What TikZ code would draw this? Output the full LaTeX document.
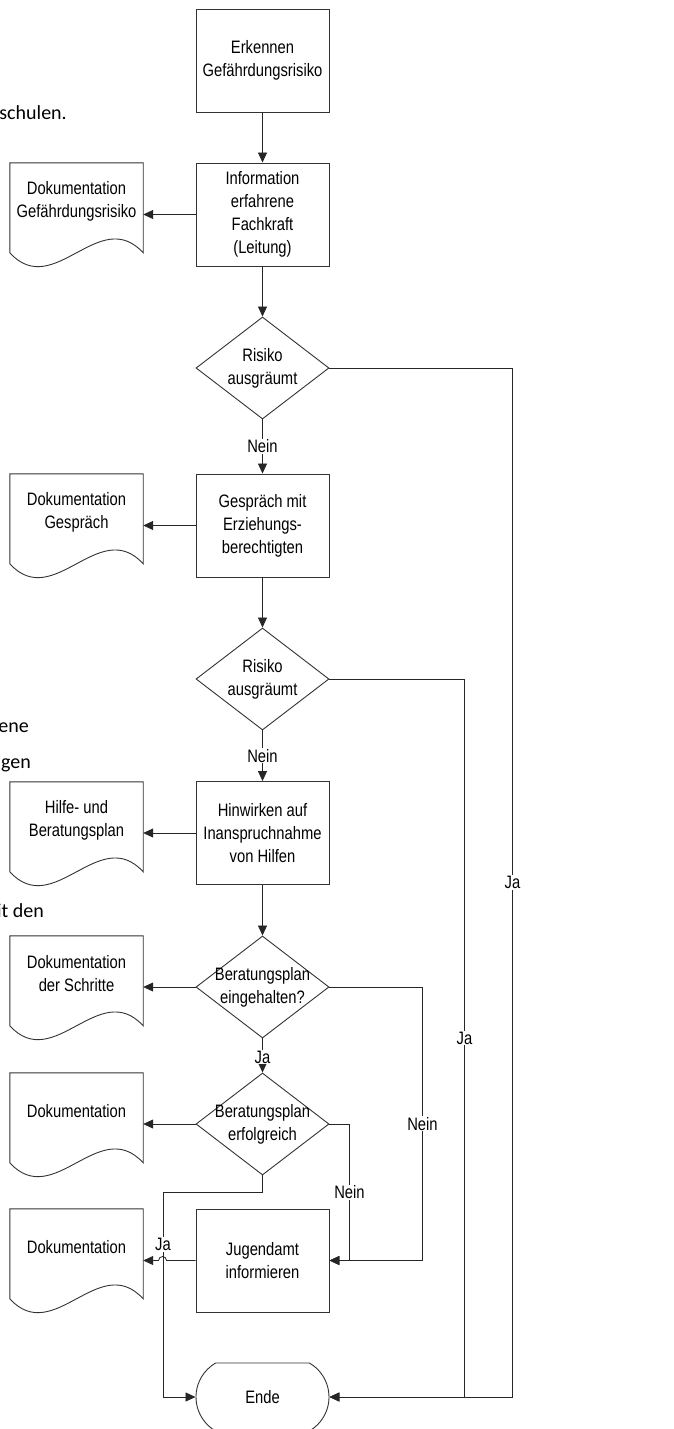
\documentclass[tikz,border=0pt]{standalone}
\usepackage{fontspec}
\setmainfont{Liberation Sans}[FakeStretch=0.82]
\newfontfamily\seitenschrift{Carlito}
\usetikzlibrary{arrows.meta,shapes.geometric,shapes.misc,calc,positioning}

\newcommand{\schrift}{\fontsize{18}{23}\selectfont}
\newcommand{\rautetext}[1]{\makebox[0pt]{\begin{tabular}{@{}c@{}}#1\end{tabular}}}
% Dokument-Symbol mit Wellenunterkante
\newcommand{\dokuform}[1]{%
  \draw[rahmen] (#1.north east) -- (#1.north west) -- ++(0,-90)
    .. controls +(44,-48) and +(-44,48) .. ($(#1.north east)+(0,-90)$) -- cycle;}

\tikzset{
  rahmen/.style={draw=black!80, line width=0.9pt},
  linie/.style={draw=black!85, line width=0.8pt},
  pfeil/.style={linie, -{Triangle[length=10pt,width=9pt]}},
  kasten/.style={rahmen, minimum width=133pt, minimum height=103pt, inner sep=0pt, align=center, font=\schrift},
  raute/.style={diamond, rahmen, minimum width=133pt, minimum height=102pt, inner sep=0pt, font=\schrift},
  doku/.style={minimum width=133pt, minimum height=76pt, inner sep=0pt, align=center, font=\schrift},
  endform/.style={rounded rectangle, rounded rectangle arc length=120, rahmen, minimum width=133pt, minimum height=68pt, inner sep=0pt, font=\schrift},
  lbl/.style={fill=white, inner sep=1pt, font=\schrift},
  seite/.style={font=\seitenschrift\fontsize{20}{24}\selectfont, inner sep=0pt, anchor=base east}
}

\begin{document}
\begin{tikzpicture}[x=1pt,y=1pt]
\useasboundingbox[fill=white] (0,0) rectangle (673,-1429);

% Reste des Seitentextes
\node[seite] (rest1) at (67,-119) {schulen.};
\node[seite] (rest2) at (29,-732) {ene};
\node[seite] (rest3) at (31,-768) {gen};
\node[seite] (rest4) at (44,-917) {it den};

% Ablauf
\node[kasten] (erkennen) at (262.5,-60.5) {Erkennen\\Gefährdungsrisiko};
\node[kasten] (info) at (262.5,-214.5) {Information\\erfahrene\\Fachkraft\\(Leitung)};
\node[doku] (dokrisiko) at (76.5,-201) {Dokumentation\\Gefährdungsrisiko};
\node[raute] (risiko1) at (262.5,-368) {\rautetext{Risiko\\ausgräumt}};
\node[kasten] (gespraech) at (262.5,-525.5) {Gespräch mit\\Erziehungs-\\berechtigten};
\node[doku] (dokgespraech) at (76.5,-512) {Dokumentation\\Gespräch};
\node[raute] (risiko2) at (262.5,-679) {\rautetext{Risiko\\ausgräumt}};
\node[kasten] (hinwirken) at (262.5,-833) {Hinwirken auf\\Inanspruchnahme\\von Hilfen};
\node[doku] (dokplan) at (76.5,-820) {Hilfe- und\\Beratungsplan};
\node[raute] (eingehalten) at (262.5,-987) {\rautetext{Beratungsplan\\eingehalten?}};
\node[doku] (dokschritte) at (76.5,-974) {Dokumentation\\der Schritte};
\node[raute] (erfolg) at (262.5,-1124) {\rautetext{Beratungsplan\\erfolgreich}};
\node[doku] (dokerfolg) at (76.5,-1111) {Dokumentation};
\node[kasten] (jugendamt) at (262.5,-1260.5) {Jugendamt\\informieren};
\node[doku] (dokjugendamt) at (76.5,-1247) {Dokumentation};
\node[endform] (ende) at (262.5,-1397) {Ende};

\dokuform{dokrisiko}
\dokuform{dokgespraech}
\dokuform{dokplan}
\dokuform{dokschritte}
\dokuform{dokerfolg}
\dokuform{dokjugendamt}

% Verbindungen
\draw[pfeil] (erkennen) -- (info);
\draw[pfeil] (info.west) -- (info.west -| dokrisiko.east);
\draw[pfeil] (info) -- (risiko1);
\draw[pfeil] (risiko1) -- node[lbl]{Nein} (gespraech);
\draw[pfeil] (risiko1.east) -- ++(183,0) |- node[lbl,pos=.25]{Ja} (ende.east);
\draw[pfeil] (gespraech.west) -- (gespraech.west -| dokgespraech.east);
\draw[pfeil] (gespraech) -- (risiko2);
\draw[pfeil] (risiko2) -- node[lbl]{Nein} (hinwirken);
\draw[pfeil] (risiko2.east) -- ++(135,0) |- node[lbl,pos=.25]{Ja} (ende.east);
\draw[pfeil] (hinwirken.west) -- (hinwirken.west -| dokplan.east);
\draw[pfeil] (hinwirken) -- (eingehalten);
\draw[pfeil] (eingehalten.west) -- (eingehalten.west -| dokschritte.east);
\draw[pfeil] (eingehalten) -- node[lbl,pos=.55]{Ja} (erfolg);
\draw[pfeil] (eingehalten.east) -- ++(93,0) |- node[lbl,pos=.25]{Nein} (jugendamt.east);
\draw[pfeil] (erfolg.west) -- (erfolg.west -| dokerfolg.east);
\draw[pfeil] (erfolg.east) -- ++(20,0) |- node[lbl,pos=.25]{Nein} (jugendamt.east);
\draw[pfeil] (erfolg.south) |- ++(-99.5,-17) |- node[lbl,pos=.127]{Ja} (ende.west);
\draw[pfeil] (jugendamt.west) -- ($(jugendamt.west)+(-29,0)$)
  arc[start angle=0,end angle=180,radius=4pt] -- (jugendamt.west -| dokjugendamt.east);
\end{tikzpicture}
\end{document}
